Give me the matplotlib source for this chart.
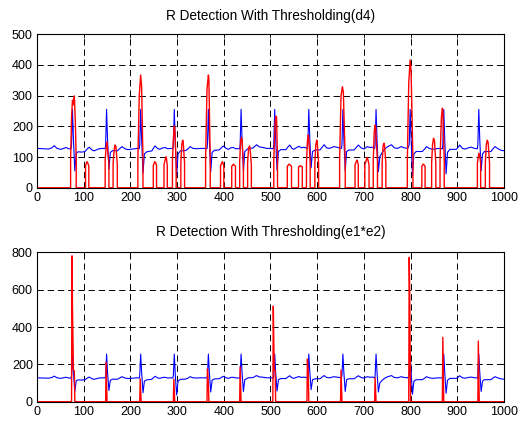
import matplotlib
matplotlib.use("Agg")
import matplotlib.pyplot as plt

# ECG signal (blue)
ecg_x = [0, 12, 25, 32, 37, 43, 51, 57, 62, 68, 73,
         74, 76, 78, 81, 84, 88, 96, 103, 108, 112, 117, 122, 128, 133, 141, 146,
         147, 149, 151, 154, 157, 162, 172, 177, 182, 188, 195, 205, 214, 219,
         220, 222, 224, 227, 230, 235, 246, 249, 253, 258, 263, 268, 274, 280, 286, 291,
         292, 294, 296, 299, 302, 307, 318, 323, 328, 334, 342, 350, 360, 364,
         365, 367, 369, 372, 375, 380, 390, 395, 399, 405, 410, 415, 420, 426, 434,
         435, 437, 439, 442, 445, 452, 462, 466, 470, 476, 484, 492, 500, 506,
         507, 509, 511, 514, 517, 522, 533, 537, 541, 546, 550, 555, 561, 566, 572, 578,
         580, 582, 584, 587, 590, 596, 606, 611, 615, 620, 626, 631, 636, 644, 652,
         653, 655, 657, 660, 663, 668, 679, 684, 688, 694, 700, 707, 713, 718, 723,
         724, 726, 728, 731, 734, 738, 744, 750, 759, 765, 772, 780, 786, 794,
         797, 799, 801, 804, 807, 812, 825, 830, 834, 840, 847, 854, 862, 868,
         869, 871, 873, 876, 879, 884, 898, 902, 905, 911, 917, 924, 930, 937, 943,
         944, 946, 948, 951, 954, 958, 972, 977, 981, 986, 991, 996, 1000]
ecg_y = [128, 127, 126, 130, 137, 128, 125, 128, 131, 127, 126,
         140, 255, 160, 55, 112, 117, 116, 118, 127, 132, 124, 120, 124, 127, 128, 127,
         140, 255, 160, 60, 115, 121, 120, 127, 134, 127, 124, 126, 128, 127,
         140, 255, 160, 48, 110, 117, 120, 128, 136, 128, 125, 129, 131, 127, 128, 127,
         140, 255, 150, 36, 110, 120, 121, 126, 134, 128, 127, 128, 128, 127,
         140, 255, 160, 52, 115, 122, 123, 130, 136, 128, 125, 130, 131, 127, 127,
         140, 255, 160, 55, 118, 128, 129, 134, 140, 133, 131, 128, 128, 127,
         140, 255, 160, 57, 118, 124, 124, 132, 139, 128, 125, 130, 135, 130, 132, 128,
         140, 255, 165, 65, 118, 123, 123, 133, 140, 130, 128, 131, 134, 131, 128,
         140, 255, 160, 55, 118, 123, 123, 132, 139, 130, 126, 134, 131, 132, 128,
         140, 255, 160, 52, 100, 112, 125, 133, 140, 130, 128, 134, 130, 128,
         140, 255, 160, 40, 110, 118, 118, 126, 134, 128, 125, 127, 128, 127,
         140, 255, 160, 45, 115, 125, 125, 132, 139, 128, 126, 130, 132, 128, 127,
         140, 255, 160, 55, 110, 118, 118, 128, 134, 128, 124, 121, 121]

# thresholded d4 (red, top panel)
d4_x = [0,
        72, 72, 74, 76, 77, 78, 80, 82, 84, 84,
        104, 104, 107, 109, 111, 111,
        146, 146, 148, 150, 152, 154, 154,
        163, 163, 165, 167, 169, 172, 172,
        216, 216, 219, 222, 224, 227, 227,
        249, 249, 252, 254, 256, 256,
        272, 272, 276, 277, 279, 279,
        290, 290, 292, 294, 295, 298, 298,
        308, 308, 310, 312, 313, 316, 316,
        361, 361, 364, 367, 368, 371, 371,
        393, 393, 397, 398, 400, 400,
        417, 417, 421, 422, 425, 425,
        434, 434, 436, 438, 439, 442, 442,
        451, 451, 453, 455, 456, 459, 459,
        507, 507, 510, 512, 513, 515, 515,
        536, 536, 540, 542, 545, 545,
        560, 560, 564, 566, 568, 568,
        577, 577, 579, 581, 582, 585, 585,
        595, 595, 597, 599, 600, 603, 603,
        648, 648, 651, 654, 656, 660, 660,
        681, 681, 685, 686, 688, 688,
        702, 702, 705, 707, 708, 711, 711,
        720, 720, 722, 724, 725, 729, 729,
        739, 739, 741, 743, 744, 747, 747,
        793, 793, 796, 799, 801, 805, 805,
        824, 824, 827, 829, 831, 831,
        845, 845, 847, 849, 851, 854, 854,
        863, 863, 866, 868, 869, 872, 872,
        943, 943, 946, 948, 950, 950,
        960, 960, 962, 964, 966, 969, 969,
        1000]
d4_y = [0,
        0, 90, 230, 285, 272, 270, 299, 220, 90, 0,
        0, 72, 85, 80, 70, 0,
        0, 90, 130, 150, 110, 80, 0,
        0, 80, 120, 139, 135, 75, 0,
        0, 90, 300, 367, 330, 90, 0,
        0, 72, 85, 82, 72, 0,
        0, 75, 101, 98, 72, 0,
        0, 85, 160, 201, 195, 80, 0,
        0, 80, 140, 155, 150, 80, 0,
        0, 90, 320, 367, 355, 90, 0,
        0, 72, 85, 82, 70, 0,
        0, 70, 77, 74, 70, 0,
        0, 85, 150, 164, 158, 80, 0,
        0, 80, 128, 136, 132, 75, 0,
        0, 90, 215, 233, 230, 90, 0,
        0, 70, 77, 74, 70, 0,
        0, 68, 72, 70, 68, 0,
        0, 80, 150, 172, 160, 80, 0,
        0, 80, 140, 155, 150, 80, 0,
        0, 90, 300, 329, 310, 90, 0,
        0, 75, 90, 87, 75, 0,
        0, 75, 90, 99, 95, 75, 0,
        0, 85, 180, 204, 200, 85, 0,
        0, 80, 135, 145, 140, 80, 0,
        0, 90, 340, 416, 380, 90, 0,
        0, 70, 77, 74, 70, 0,
        0, 80, 140, 161, 155, 80, 0,
        0, 90, 230, 259, 250, 90, 0,
        0, 80, 112, 105, 80, 0,
        0, 80, 140, 155, 148, 80, 0,
        0]

# thresholded e1*e2 (red, bottom panel)
e12_x = [0,
         74, 75, 76, 78, 80, 81,
         147, 148, 150,
         220, 221, 223,
         292, 293, 295,
         364, 365, 367, 368,
         434, 435, 437,
         505, 506, 508, 510, 511,
         578, 579, 581, 582,
         650, 651, 653,
         723, 724, 726,
         796, 797, 798, 800,
         868, 869, 871,
         944, 945, 947,
         1000]
e12_y = [0,
         0, 781, 500, 170, 165, 0,
         0, 212, 0,
         0, 123, 0,
         0, 121, 0,
         0, 175, 100, 0,
         0, 187, 0,
         0, 512, 168, 168, 0,
         0, 228, 150, 0,
         0, 170, 0,
         0, 129, 0,
         0, 773, 600, 0,
         0, 345, 0,
         0, 325, 0,
         0]

titles = ["R Detection With Thresholding(d4)", "R Detection With Thresholding(e1*e2)"]
title_pads = [10, 12]
x_ticks = list(range(0, 1001, 100))
top_yticks = [0, 100, 200, 300, 400, 500]
bottom_yticks = [0, 200, 400, 600, 800]

plt.rcParams['font.family'] = ['Liberation Sans', 'DejaVu Sans']
plt.rcParams['font.size'] = 9

fig = plt.figure(figsize=(5.18, 4.21), dpi=100)
ax1 = fig.add_axes([0.0714, 0.554, 0.9016, 0.365])
ax2 = fig.add_axes([0.0714, 0.0458, 0.9016, 0.3549])

panels = [(ax1, d4_x, d4_y, top_yticks), (ax2, e12_x, e12_y, bottom_yticks)]
for i, (ax, rx, ry, yt) in enumerate(panels):
    ax.plot(ecg_x, ecg_y, color='blue', lw=0.8)
    ax.plot(rx, ry, color='red', lw=1.0)
    ax.set_xlim(0, 1000)
    ax.set_ylim(yt[0], yt[-1])
    ax.set_xticks(x_ticks)
    ax.set_yticks(yt)
    ax.grid(True, color='black', linestyle=(0, (6.5, 4)), lw=0.7)
    ax.tick_params(direction='in', top=True, right=True, length=3, width=0.6, pad=3)
    for s in ax.spines.values():
        s.set_linewidth(0.8)
    ax.set_title(titles[i], fontsize=9.8, pad=title_pads[i])

fig.savefig("out.png", dpi=100)
